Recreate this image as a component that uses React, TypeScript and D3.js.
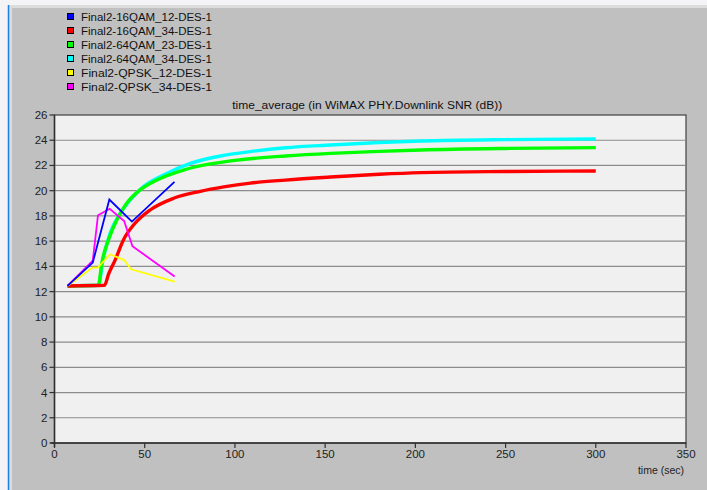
import React from 'react';
import * as d3 from 'd3';

// series names (legend order)
const seriesNames = [
  'Final2-16QAM_12-DES-1',
  'Final2-16QAM_34-DES-1',
  'Final2-64QAM_23-DES-1',
  'Final2-64QAM_34-DES-1',
  'Final2-QPSK_12-DES-1',
  'Final2-QPSK_34-DES-1',
];
const seriesColors = ['#0000ff', '#ff0000', '#00ff00', '#00ffff', '#ffff00', '#ff00ff'];

// values (time in sec, SNR in dB)
const qam16_12_t = [7.2, 21.2, 30.4, 42.9, 66.5];
const qam16_12_v = [12.45, 14.3, 19.3, 17.55, 20.7];

const qam16_34_t = [7.2, 27.7, 30, 33.6, 38.2, 43.8, 53, 66, 80.8, 93.8, 108.6, 128, 153, 180, 203, 250, 300];
const qam16_34_v = [12.45, 12.5, 13.4, 14.5, 16.1, 17.28, 18.47, 19.4, 19.95, 20.3, 20.6, 20.84, 21.08, 21.3, 21.43, 21.52, 21.56];

const qam64_23_t = [7.2, 24.3, 26.2, 29.9, 34.5, 40, 47.5, 56.8, 71.5, 86.4, 103, 128, 153, 180, 203, 250, 300];
const qam64_23_v = [12.45, 12.5, 14.25, 16.1, 17.68, 19.0, 20.06, 20.85, 21.64, 22.12, 22.45, 22.75, 22.96, 23.12, 23.23, 23.35, 23.41];

const qam64_34_t = [7.2, 24.3, 27, 30.8, 36.4, 41.9, 49.3, 60.4, 75.3, 93.8, 108.6, 128, 153, 180, 203, 250, 300];
const qam64_34_v = [12.45, 12.5, 14.6, 16.62, 18.2, 19.26, 20.32, 21.24, 22.17, 22.8, 23.1, 23.4, 23.62, 23.82, 23.94, 24.05, 24.1];

const qpsk12_t = [7.2, 21, 24, 30.8, 38.6, 42.5, 66.6];
const qpsk12_v = [12.45, 13.9, 13.9, 14.96, 14.5, 13.77, 12.8];

const qpsk34_t = [7.2, 21.2, 24.1, 30.6, 38.6, 43.2, 66.6];
const qpsk34_v = [12.45, 14.45, 18.05, 18.57, 17.6, 15.6, 13.2];

const xTicks = [0, 50, 100, 150, 200, 250, 300, 350];
const yTicks = [0, 2, 4, 6, 8, 10, 12, 14, 16, 18, 20, 22, 24, 26];

const title = 'time_average (in WiMAX PHY.Downlink SNR (dB))';
const xLabel = 'time (sec)';

const zip = (t: number[], v: number[]) => t.map((d, i) => [d, v[i]] as [number, number]);

const App = () => {
  const width = 707;
  const height = 490;
  const plot = { left: 54.5, right: 686, top: 115, bottom: 443 };

  const x = d3.scaleLinear().domain([0, 350]).range([plot.left, plot.right]);
  const y = d3.scaleLinear().domain([0, 26]).range([plot.bottom, plot.top]);

  const line = d3.line<[number, number]>()
    .x((d) => x(d[0]))
    .y((d) => y(d[1]));
  const curve = d3.line<[number, number]>()
    .x((d) => x(d[0]))
    .y((d) => y(d[1]))
    .curve(d3.curveMonotoneX);

  // thick averaged curves first, thin ones on top
  const thick = [
    { data: zip(qam64_34_t, qam64_34_v), color: seriesColors[3] },
    { data: zip(qam64_23_t, qam64_23_v), color: seriesColors[2] },
    { data: zip(qam16_34_t, qam16_34_v), color: seriesColors[1] },
  ];
  const thin = [
    { data: zip(qpsk12_t, qpsk12_v), color: seriesColors[4] },
    { data: zip(qpsk34_t, qpsk34_v), color: seriesColors[5] },
    { data: zip(qam16_12_t, qam16_12_v), color: seriesColors[0] },
  ];

  const font = 'Liberation Sans, Arial, sans-serif';

  return (
    <div style={{ position: 'fixed', left: 0, top: 0 }}>
      <svg width={width} height={height} style={{ display: 'block' }}>
        {/* frame */}
        <rect x={0} y={0} width={width} height={height} fill="#f4f4f6" />
        <rect x={9} y={5} width={width - 9} height={height - 5} fill="#dcdcdc" />
        <rect x={12} y={8} width={width - 12} height={height - 8} fill="#c0c0c0" />
        <line x1={8.5} x2={8.5} y1={5} y2={height} stroke="#1e7fe0" strokeWidth={1.5} />

        {/* legend */}
        {seriesNames.map((name, i) => (
          <g key={name} transform={`translate(67.5, ${17 + i * 14})`}>
            <rect x={0} y={-3.5} width={6} height={6} fill={seriesColors[i]} stroke="#000" strokeWidth={1} />
            <text x={13.5} y={3.5} fontFamily={font} fontSize={10} fill="#111"
              textLength={131} lengthAdjust="spacingAndGlyphs">{name}</text>
          </g>
        ))}

        {/* title */}
        <text x={(plot.left + plot.right) / 2 - 3} y={109} textAnchor="middle" fontFamily={font} fontSize={10}
          fill="#111" textLength={270} lengthAdjust="spacingAndGlyphs">{title}</text>

        {/* plot area */}
        <rect x={plot.left} y={plot.top} width={plot.right - plot.left} height={plot.bottom - plot.top}
          fill="#f0f0f0" stroke="#404040" strokeWidth={1.2} />
        {yTicks.filter((t) => t > 0 && t < 26).map((t) => (
          <line key={t} x1={plot.left} x2={plot.right} y1={y(t)} y2={y(t)} stroke="#8c8c8c" strokeWidth={1.2} />
        ))}

        {/* series */}
        <g>
          {thick.map((s, i) => (
            <path key={'k' + i} d={curve(s.data) || ''} fill="none" stroke={s.color} strokeWidth={3.4}
              strokeLinejoin="round" />
          ))}
          {thin.map((s, i) => (
            <path key={'n' + i} d={line(s.data) || ''} fill="none" stroke={s.color} strokeWidth={1.8} />
          ))}
        </g>

        {/* axes */}
        <line x1={plot.left} x2={plot.left} y1={plot.top} y2={plot.bottom + 4} stroke="#303030" strokeWidth={1.5} />
        <line x1={plot.left - 4} x2={plot.right} y1={plot.bottom} y2={plot.bottom} stroke="#303030" strokeWidth={1.5} />
        {yTicks.map((t) => (
          <g key={t}>
            <line x1={plot.left - 5} x2={plot.left} y1={y(t)} y2={y(t)} stroke="#303030" strokeWidth={1.2} />
            <text x={plot.left - 7} y={y(t) + 4} textAnchor="end" fontFamily={font} fontSize={11.5} fill="#222">{t}</text>
          </g>
        ))}
        {xTicks.map((t) => (
          <g key={t}>
            <line x1={x(t)} x2={x(t)} y1={plot.bottom} y2={plot.bottom + 5} stroke="#303030" strokeWidth={1.2} />
            <text x={x(t)} y={plot.bottom + 15} textAnchor="middle" fontFamily={font} fontSize={11.5} fill="#222">{t}</text>
          </g>
        ))}
        <text x={plot.right - 2} y={474} textAnchor="end" fontFamily={font} fontSize={10.5} fill="#222">{xLabel}</text>
      </svg>
    </div>
  );
};

export default App;
